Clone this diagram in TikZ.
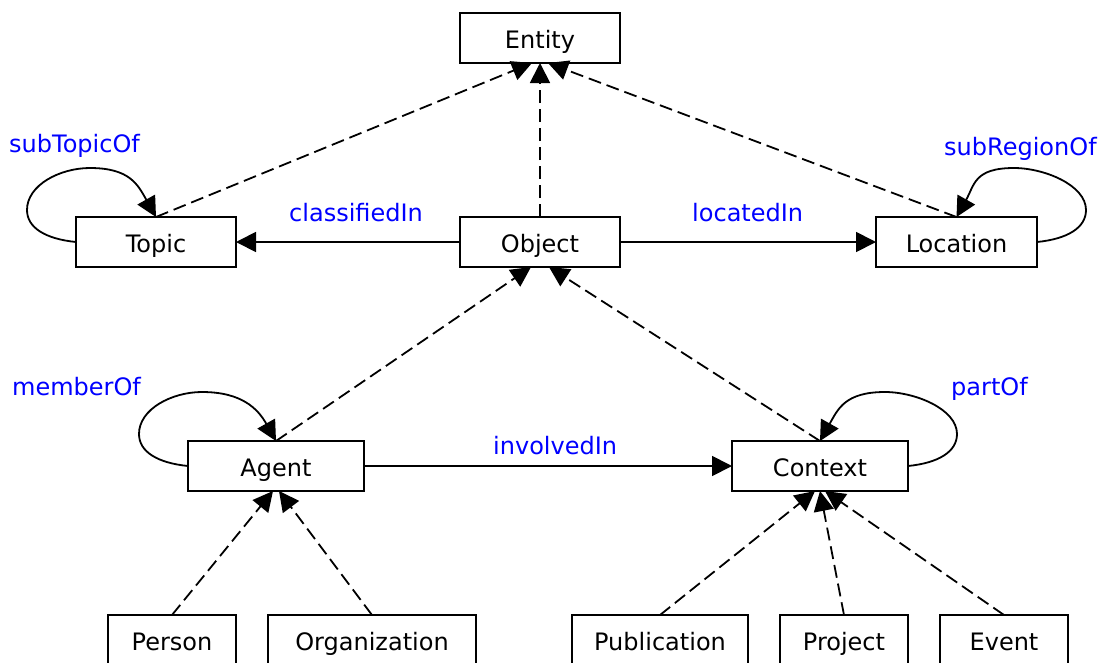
\documentclass[tikz,border=0pt]{standalone}
\usepackage{fontspec}
\setmainfont{DejaVu Sans}
\usetikzlibrary{arrows.meta}
\begin{document}
\begin{tikzpicture}[x=1pt,y=-1pt,
  box/.style={draw, line width=2pt, minimum height=50pt, inner sep=0pt, outer sep=0pt,
    text height=22.5pt, text depth=1.5pt, font=\fontsize{24}{29}\selectfont},
  lbl/.style={text={rgb,255:red,0;green,0;blue,255}, anchor=base west, inner sep=0pt, font=\fontsize{24}{29}\selectfont},
  tip/.style={-{Triangle[length=20pt,width=20pt]}},
  isa/.style={line width=1.8pt, dash pattern=on 13pt off 6pt, tip},
  rel/.style={line width=1.8pt, tip},
]
\clip (0,0) rectangle (1106,662);
\fill[white] (0,0) rectangle (1106,662);

% nodes
\node[box, minimum width=160pt] (Entity) at (540,38) {Entity};
\node[box, minimum width=160pt] (Object) at (540,242) {Object};
\node[box, minimum width=160pt] (Topic) at (156,242) {Topic};
\node[box, minimum width=161pt] (Location) at (956.5,242) {Location};
\node[box, minimum width=176pt] (Agent) at (276,466) {Agent};
\node[box, minimum width=176pt] (Context) at (820,466) {Context};
\node[box, minimum width=128pt] (Person) at (172,640) {Person};
\node[box, minimum width=208pt] (Organization) at (372,640) {Organization};
\node[box, minimum width=176pt] (Publication) at (660,640) {Publication};
\node[box, minimum width=128pt] (Project) at (844,640) {Project};
\node[box, minimum width=128pt] (Event) at (1004,640) {Event};

% labels
\node[lbl] (lSubTopic) at (9,152) {subTopicOf};
\node[lbl] (lSubRegion) at (944,155) {subRegionOf};
\node[lbl] (lClassified) at (289,221) {classifiedIn};
\node[lbl] (lLocated) at (692,221) {locatedIn};
\node[lbl] (lMember) at (12,395) {memberOf};
\node[lbl] (lInvolved) at (493,454) {involvedIn};
\node[lbl] (lPart) at (951,395) {partOf};

% subclass (dashed) edges
\draw[isa] (Topic.north) -- ([xshift=-8pt]Entity.south);
\draw[isa] (Object.north) -- (Entity.south);
\draw[isa] (Location.north) -- ([xshift=8pt]Entity.south);
\draw[isa] (Agent.north) -- ([xshift=-9pt]Object.south);
\draw[isa] (Context.north) -- ([xshift=9pt]Object.south);
\draw[isa] (Person.north) -- ([xshift=-3pt]Agent.south);
\draw[isa] (Organization.north) -- ([xshift=3pt]Agent.south);
\draw[isa] (Publication.north) -- ([xshift=-5pt]Context.south);
\draw[isa] (Project.north) -- (Context.south);
\draw[isa] (Event.north) -- ([xshift=5pt]Context.south);

% relations
\draw[rel] (Object.west) -- (Topic.east);
\draw[rel] (Object.east) -- (Location.west);
\draw[rel] (Agent.east) -- (Context.west);

% loops
\draw[rel] (Topic.west) .. controls +(-30,-3) and +(0,18) .. ++(-49,-32)
  .. controls +(0,-25) and +(-30,0) .. ++(63,-42)
  .. controls +(40,0) and +(-18,-32) .. (Topic.north);
\draw[rel] (Agent.west) .. controls +(-30,-3) and +(0,18) .. ++(-49,-32)
  .. controls +(0,-25) and +(-30,0) .. ++(63,-42)
  .. controls +(40,0) and +(-18,-32) .. (Agent.north);
\draw[rel] (Location.east) .. controls +(30,-3) and +(0,18) .. ++(49,-32)
  .. controls +(0,-25) and +(30,0) .. ++(-72,-42)
  .. controls +(-40,0) and +(18,-32) .. (Location.north);
\draw[rel] (Context.east) .. controls +(30,-3) and +(0,18) .. ++(49,-32)
  .. controls +(0,-25) and +(30,0) .. ++(-72,-42)
  .. controls +(-40,0) and +(18,-32) .. (Context.north);
\end{tikzpicture}
\end{document}
